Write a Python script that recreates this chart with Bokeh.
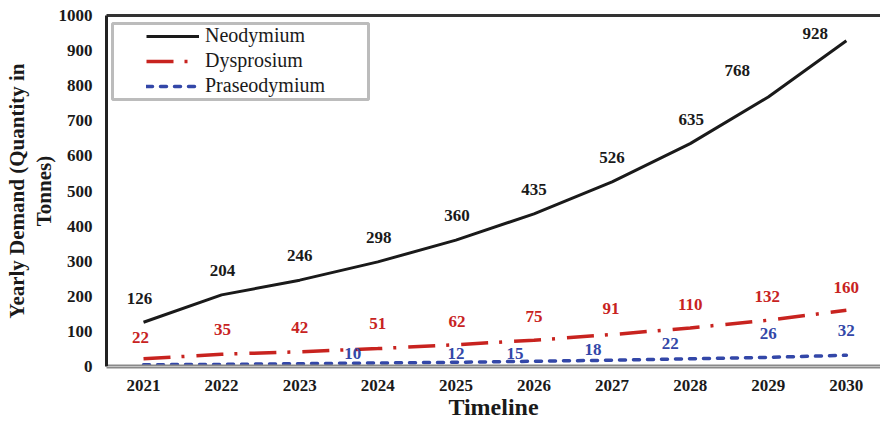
from bokeh.plotting import figure
from bokeh.models import (Range1d, FixedTicker, LinearAxis, Legend, LegendItem,
                          ColumnDataSource, Span, BoxAnnotation)
from bokeh.core.properties import value
from bokeh.embed import file_html
from bokeh.resources import INLINE

# Yearly rare-earth demand (tonnes)
years = [2021, 2022, 2023, 2024, 2025, 2026, 2027, 2028, 2029, 2030]
neodymium = [126, 204, 246, 298, 360, 435, 526, 635, 768, 928]
dysprosium = [22, 35, 42, 51, 62, 75, 91, 110, 132, 160]
praseodymium = [5, 6, 8, 10, 12, 15, 18, 22, 26, 32]
praseodymium_labelled = [False, False, False, True, True, True, True, True, True, True]
y_ticks = [0, 100, 200, 300, 400, 500, 600, 700, 800, 900, 1000]

# label placement (pixel offsets from each point; negative y is upward)
neo_dx = [-4, 1, 0, 1, 1, 0, 0, 1, -31, -31]
neo_dy = [-24, -24, -25, -24, -25, -24, -24, -24, -26, -7]
dys_dx = [-3, 1, 0, 0, 1, 0, -1, 0, -1, 0]
dys_dy = [-21, -25, -24, -25, -23, -24, -26, -23, -24, -23]
pra_dx = [0, 0, 0, -25, 0, -19, -19, -20, 0, 0]
pra_dy = [0, 0, 0, -9, -9, -8, -11, -15, -24, -25]

FONT = "Liberation Serif"
BLACK = "#1a1a1a"
RED = "#c8231f"
BLUE = "#3347a8"

p = figure(width=880, height=422, output_backend="svg", toolbar_location=None,
           x_range=Range1d(2020.526, 2030.437), y_range=Range1d(0, 1000),
           min_border_left=106, min_border_right=0, min_border_top=15,
           min_border_bottom=10)
p.outline_line_color = None
p.xgrid.visible = False
p.ygrid.visible = False
p.background_fill_color = "white"

# axes
p.xaxis.ticker = FixedTicker(ticks=years)
p.yaxis.ticker = FixedTicker(ticks=y_ticks)
for ax in (p.xaxis, p.yaxis):
    ax.major_tick_line_color = None
    ax.minor_tick_line_color = None
    ax.major_tick_out = 0
    ax.major_tick_in = 0
    ax.major_label_text_font = FONT
    ax.major_label_text_font_style = "bold"
    ax.major_label_text_font_size = "17px"
    ax.major_label_text_color = BLACK
    ax.axis_label_text_font = FONT
    ax.axis_label_text_font_style = "bold"
    ax.axis_label_text_color = BLACK

p.yaxis.axis_line_color = "#222222"
p.yaxis.axis_line_width = 3
p.yaxis.major_label_standoff = 14
p.yaxis.axis_label = "Yearly Demand (Quantity in\nTonnes)"
p.yaxis.axis_label_text_font_size = "21px"
p.yaxis.axis_label_text_line_height = 1.1
p.yaxis.axis_label_standoff = 0

p.xaxis.axis_line_color = "#8a8a8a"
p.xaxis.axis_line_width = 4
p.xaxis.major_label_standoff = 13
p.xaxis.axis_label = "Timeline"
p.xaxis.axis_label_text_font_size = "24px"
p.xaxis.axis_label_standoff = 0

top = LinearAxis(ticker=FixedTicker(ticks=[]), axis_line_color="#333333",
                 axis_line_width=3, major_tick_line_color=None,
                 minor_tick_line_color=None)
p.add_layout(top, "above")

# double-rule look on the baseline
p.add_layout(Span(location=0, dimension="width", line_color="white", line_width=1.2))

# series
src = ColumnDataSource(dict(
    x=years, neo=neodymium, dys=dysprosium, pra=praseodymium,
    neo_lbl=[str(v) for v in neodymium],
    dys_lbl=[str(v) for v in dysprosium],
    pra_lbl=[str(v) if s else "" for v, s in zip(praseodymium, praseodymium_labelled)],
    neo_dx=neo_dx, neo_dy=neo_dy, dys_dx=dys_dx, dys_dy=dys_dy,
    pra_dx=pra_dx, pra_dy=pra_dy,
))

r_pra = p.line("x", "pra", source=src, line_color=BLUE, line_width=3.5,
               line_dash="6 8", line_cap="round")
r_dys = p.line("x", "dys", source=src, line_color=RED, line_width=3.5,
               line_dash="27 11 3 12")
r_neo = p.line("x", "neo", source=src, line_color=BLACK, line_width=3)

# value labels
for ycol, lbl, dx, dy, color in (("neo", "neo_lbl", "neo_dx", "neo_dy", BLACK),
                                 ("dys", "dys_lbl", "dys_dx", "dys_dy", RED),
                                 ("pra", "pra_lbl", "pra_dx", "pra_dy", BLUE)):
    p.text(x="x", y=ycol, text=lbl, source=src, x_offset=dx, y_offset=dy,
           text_font=value(FONT), text_font_style="bold", text_font_size="17px",
           text_color=color, text_align="center", text_baseline="middle")

# legend frame
p.add_layout(BoxAnnotation(left=2020.603, right=2023.881, bottom=761, top=977,
                           fill_color="white", fill_alpha=1,
                           line_color="#222222", line_width=3))

legend = Legend(items=[LegendItem(label="Neodymium", renderers=[r_neo]),
                       LegendItem(label="Dysprosium", renderers=[r_dys]),
                       LegendItem(label="Praseodymium", renderers=[r_pra])],
                location=(40, 269), padding=0, spacing=2, margin=0,
                glyph_width=53, glyph_height=20, label_height=20,
                label_standoff=6, border_line_color=None,
                background_fill_alpha=0,
                label_text_font=FONT, label_text_font_size="20px",
                label_text_color=BLACK)
p.add_layout(legend, "center")

open("out.html", "w").write(file_html(p, INLINE))
